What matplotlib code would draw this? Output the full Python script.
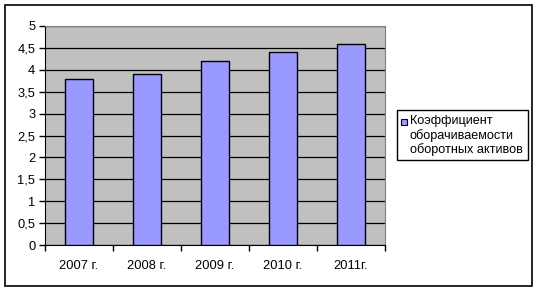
import numpy as np
import matplotlib
matplotlib.use('Agg')
import matplotlib.pyplot as plt
from matplotlib.patches import Rectangle
from matplotlib.ticker import FuncFormatter

plt.rcParams['font.family'] = ['Liberation Sans', 'DejaVu Sans']

years = ['2007 г.', '2008 г.', '2009 г.', '2010 г.', '2011г.']
values = [3.8, 3.9, 4.2, 4.4, 4.6]
series_name = 'Коэффициент\nоборачиваемости\nоборотных активов'

W, H = 539, 292
fig = plt.figure(figsize=(W / 100, H / 100), dpi=100)

# outer chart border
fig.patches.append(Rectangle((5 / W, 1 - 286 / H), 527 / W, 281 / H,
                             transform=fig.transFigure, fill=False,
                             edgecolor='black', linewidth=1.2))

ax = fig.add_axes([45 / W, 1 - 245 / H, 340 / W, 219 / H])
ax.set_facecolor('#C0C0C0')

x = np.arange(len(years))
ax.bar(x, values, width=0.4, color='#9999FF', edgecolor='black',
       linewidth=1, zorder=3)

ax.set_xlim(-0.5, len(years) - 0.5)
ax.set_ylim(0, 5)
ax.set_yticks(np.arange(0, 5.01, 0.5))
ax.yaxis.set_major_formatter(FuncFormatter(
    lambda v, p: ('%g' % v).replace('.', ',')))
ax.grid(axis='y', color='black', linewidth=0.9, zorder=1)

ax.set_xticks(np.arange(-0.5, len(years), 1))
ax.set_xticklabels([])
ax.set_xticks(x, minor=True)
ax.set_xticklabels(years, minor=True)
ax.tick_params(axis='x', which='minor', length=0, pad=11, labelsize=9.3)
ax.tick_params(axis='x', which='major', direction='out', length=4, width=1)
ax.tick_params(axis='y', direction='out', length=4, width=1, pad=3,
               labelsize=9.3)

for s in ['top', 'right']:
    ax.spines[s].set_color('#808080')
for s in ['left', 'bottom']:
    ax.spines[s].set_color('black')

# legend box
fig.patches.append(Rectangle((397 / W, 1 - 160 / H), 131 / W, 50 / H,
                             transform=fig.transFigure, facecolor='white',
                             edgecolor='black', linewidth=1))
fig.patches.append(Rectangle((401 / W, 1 - 125 / H), 6 / W, 6 / H,
                             transform=fig.transFigure, facecolor='#9999FF',
                             edgecolor='black', linewidth=0.8))
fig.text(410 / W, 1 - 115 / H, series_name, ha='left', va='top',
         fontsize=9.1, linespacing=1.18)

fig.savefig('out.png', dpi=100)
